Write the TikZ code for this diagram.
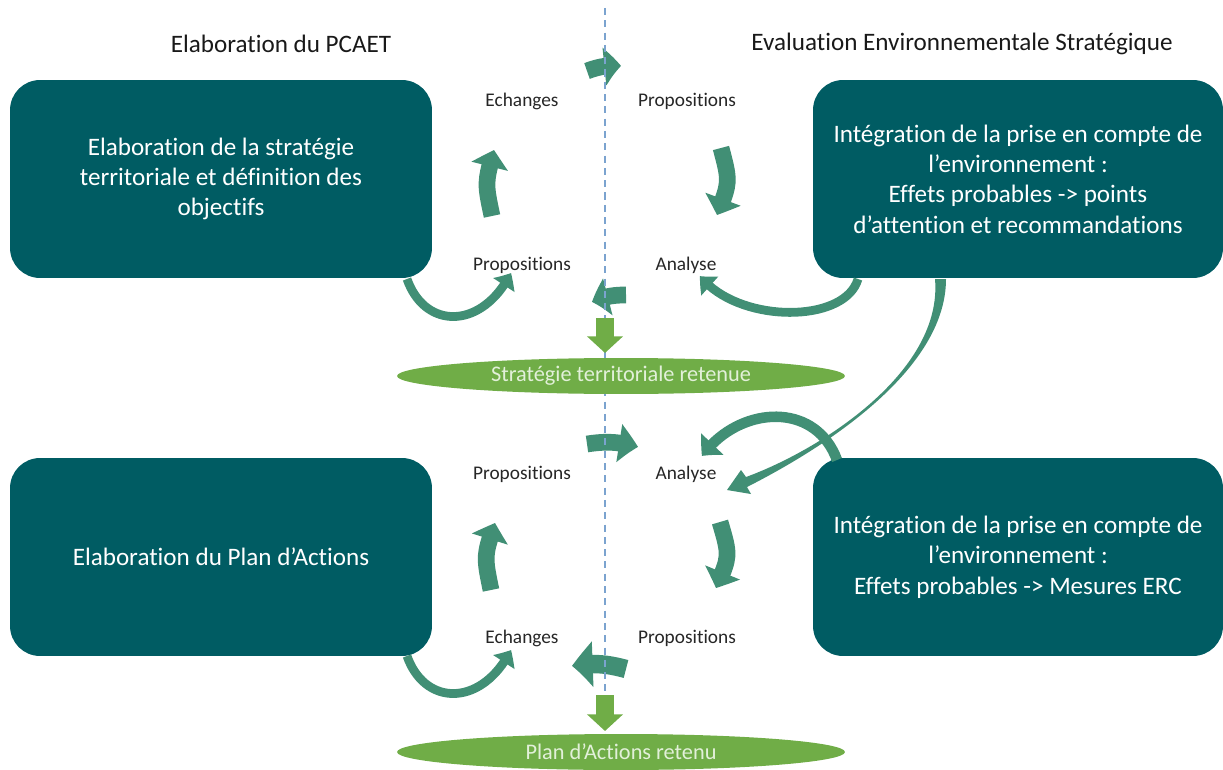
\documentclass[tikz,border=0pt]{standalone}
\usepackage{fontspec}
\setmainfont[Ligatures=NoCommon]{Carlito}
\usepackage{tikz}
\usetikzlibrary{arrows.meta,bending,shapes.geometric,positioning}
\definecolor{boxteal}{HTML}{005C63}
\definecolor{arrowteal}{HTML}{418F75}
\definecolor{leafgreen}{HTML}{70AD47}
\definecolor{paleleaf}{HTML}{E2F0D9}
\definecolor{dashblue}{HTML}{7BA3CF}
\definecolor{labelgrey}{HTML}{262626}

\begin{document}
\begin{tikzpicture}
[x=0.02cm, y=-0.02cm,
% STYLES
% The title style is used for the two column headings
title/.style={font=\fontsize{14.3}{17}\selectfont, text=black!90},
% The box style is used to draw the four work steps
box/.style={rectangle, rounded corners=0.6cm, fill=boxteal, text=white, minimum width=8.44cm, minimum height=3.96cm, align=center, font=\fontsize{14.3}{17.3}\selectfont},
% The lbl style is used for the small words around the loops
lbl/.style={font=\fontsize{11}{13}\selectfont, text=labelgrey},
% The result style is used for the retained outcomes
result/.style={ellipse, fill=leafgreen, text=paleleaf, minimum width=8.96cm, minimum height=0.72cm, inner sep=0pt, font=\fontsize{12.7}{15}\selectfont},
% Block arrows
bigarrow/.style={draw=arrowteal, line width=9.5pt, -{Triangle[width=21pt, length=9.5pt, bend]}},
loop/.style={draw=arrowteal, line width=5pt, -{Triangle[width=14pt, length=8pt, bend]}},
down/.style={draw=leafgreen, line width=10pt, -{Triangle[width=20pt, length=9.5pt]}}]

\useasboundingbox (0,0) rectangle (1223,770);

% Draw titles
\node [title] (pcaet) at (281,44) {Elaboration du PCAET};
\node [title] (ees) at (962,44) {Evaluation Environnementale Stratégique};

% Draw boxes
\node [box] (strat) at (221,179) {Elaboration de la stratégie\\ territoriale et définition des\\ objectifs};
\node [box, minimum width=8.2cm] (integ1) at (1018,179) {Intégration de la prise en compte de\\ l’environnement :\\ Effets probables -> points\\ d’attention et recommandations};
\node [box] (plan) at (221,557) {Elaboration du Plan d’Actions};
\node [box, minimum width=8.2cm] (integ2) at (1018,557) {Intégration de la prise en compte de\\ l’environnement :\\ Effets probables -> Mesures ERC};

% Labels of the first loop
\node [lbl] (ech1) at (522,101) {Echanges};
\node [lbl] (prop1) at (687,101) {Propositions};
\node [lbl] (prop2) at (522,265) {Propositions};
\node [lbl] (ana1) at (686,265) {Analyse};

% Labels of the second loop
\node [lbl] (prop3) at (522,474) {Propositions};
\node [lbl] (ana2) at (686,474) {Analyse};
\node [lbl] (ech2) at (522,638) {Echanges};
\node [lbl] (prop4) at (687,638) {Propositions};

% First loop
\draw [bigarrow] (587,71) to[bend left=12] (621,66);
\draw [bigarrow] (721,148) .. controls (730,182) .. (717,215);
\draw [bigarrow] (626,295) to[bend right=12] (592,302);
\draw [bigarrow] (492,216) .. controls (485,183) .. (494,150);
\draw [loop] (407,279) .. controls (425,330) and (482,330) .. (511,273);
\draw [loop] (858,279) .. controls (845,324) and (738,324) .. (700,276);

% Link from the first evaluation to the second analysis
\fill [arrowteal] (935,279) .. controls (943,372) and (820,450) .. (746,477)
  -- (741,470) -- (727,490) -- (751,494) -- (747,487)
  .. controls (820,450) and (946,372) .. (946,279) -- cycle;

% Second loop
\draw [loop, line width=6pt, -{Triangle[width=17pt, length=9pt, bend]}] (837,460) .. controls (815,400) and (738,406) .. (702,456);
\draw [bigarrow, -{Triangle[width=21pt, length=11pt, bend]}] (587,444) to[bend left=12] (638,447);
\draw [bigarrow] (720,522) .. controls (730,556) .. (716,588);
\draw [bigarrow, line width=10.5pt, -{Triangle[width=25pt, length=12pt, bend]}] (626,669) to[bend right=12] (572,666);
\draw [bigarrow] (491,590) .. controls (484,556) .. (495,523);
\draw [loop] (407,656) .. controls (425,707) and (482,707) .. (511,650);

% Separation line
\draw [dashblue, line width=0.8pt, dash pattern=on 4pt off 3pt] (605,8) -- (605,770);

% Retained results
\draw [down] (605,318) -- (605,353);
\node [result] (stratret) at (621,376) {Stratégie territoriale retenue};
\draw [down] (605,695) -- (605,731);
\node [result] (planret) at (621,752) {Plan d’Actions retenu};

\end{tikzpicture}
\end{document}
